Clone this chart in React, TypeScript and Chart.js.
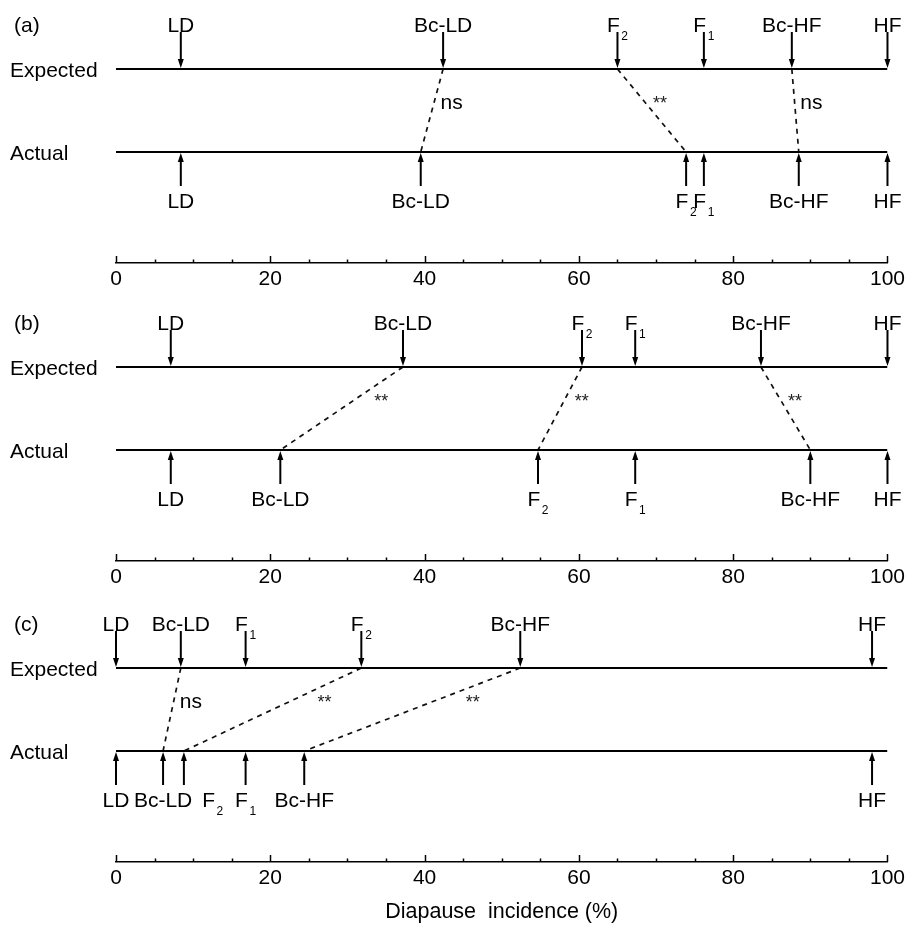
import React, { useEffect, useRef } from 'react';
import { Chart, registerables } from 'chart.js';

Chart.register(...registerables);

// ---------------- data ----------------
const STAGES = ['LD', 'Bc-LD', 'F2', 'F1', 'Bc-HF', 'HF'];
const PANEL_TAGS = ['(a)', '(b)', '(c)'];
const ROW_NAMES = ['Expected', 'Actual'];

const A_EXPECTED = [8.4, 42.4, 65.0, 76.2, 87.6, 100];
const A_ACTUAL = [8.4, 39.5, 73.9, 76.2, 88.5, 100];
const A_SIG = [null, 'ns', '**', null, 'ns', null];

const B_EXPECTED = [7.1, 37.2, 60.4, 67.3, 83.6, 100];
const B_ACTUAL = [7.1, 21.3, 54.7, 67.3, 90.0, 100];
const B_SIG = [null, '**', '**', null, '**', null];

const C_EXPECTED = [0, 8.4, 31.8, 16.8, 52.4, 98.0];
const C_ACTUAL = [0, 6.1, 8.8, 16.8, 24.4, 98.0];
const C_SIG = [null, 'ns', '**', null, '**', null];

const X_MIN = 0;
const X_MAX = 100;
const X_STEP = 5;
const X_TICK_LABELS = [0, 20, 40, 60, 80, 100];
const X_TITLE = 'Diapause  incidence (%)';

// ---------------- layout / style ----------------
const W = 909;
const FONT = '"Liberation Sans", Arial, Helvetica, sans-serif';
const MAIN_SIZE = 21;
const SUB_SIZE = 12;
const EXPECTED_ROW = 1;
const ACTUAL_ROW = 0;
const ROW_PX = 83; // distance between the two rows
const TOP_TO_EXPECTED = 69;
const PLOT_H = 263; // canvas top to axis line
const Y_MAX = EXPECTED_ROW + TOP_TO_EXPECTED / ROW_PX;
const Y_MIN = Y_MAX - PLOT_H / ROW_PX;

type Label = { main: string; sub: string };
function parseLabel(s: string): Label {
  const m = /^F(\d)$/.exec(s);
  return m ? { main: 'F', sub: m[1] } : { main: s, sub: '' };
}
function labelWidth(ctx: CanvasRenderingContext2D, l: Label) {
  ctx.font = `${MAIN_SIZE}px ${FONT}`;
  let w = ctx.measureText(l.main).width;
  if (l.sub) {
    ctx.font = `${SUB_SIZE}px ${FONT}`;
    w += 1.5 + ctx.measureText(l.sub).width;
  }
  return w;
}
function drawLabel(ctx: CanvasRenderingContext2D, l: Label, left: number, baseline: number) {
  ctx.textAlign = 'left';
  ctx.textBaseline = 'alphabetic';
  ctx.font = `${MAIN_SIZE}px ${FONT}`;
  ctx.fillText(l.main, left, baseline);
  if (l.sub) {
    const mw = ctx.measureText(l.main).width;
    ctx.font = `${SUB_SIZE}px ${FONT}`;
    ctx.fillText(l.sub, left + mw + 1.5, baseline + 7.5);
  }
}
function drawArrow(ctx: CanvasRenderingContext2D, x: number, tipY: number, dir: number, len: number) {
  const head = 9;
  const half = 3;
  ctx.lineWidth = 2;
  ctx.beginPath();
  ctx.moveTo(x, tipY - dir * len);
  ctx.lineTo(x, tipY - dir * (head - 1));
  ctx.stroke();
  ctx.beginPath();
  ctx.moveTo(x, tipY);
  ctx.lineTo(x - half, tipY - dir * head);
  ctx.lineTo(x + half, tipY - dir * head);
  ctx.closePath();
  ctx.fill();
}

type PanelProps = {
  tag: string;
  expected: number[];
  actual: number[];
  sig: (string | null)[];
  top: number;
  height: number;
  showTitle: boolean;
};

function Panel({ tag, expected, actual, sig, top, height, showTitle }: PanelProps) {
  const ref = useRef<HTMLCanvasElement>(null);

  useEffect(() => {
    const canvas = ref.current;
    if (!canvas) return;
    const axisH = height - PLOT_H;

    const decor = {
      id: 'decor',
      afterDraw(chart: any) {
        const ctx: CanvasRenderingContext2D = chart.ctx;
        const xs = chart.scales.x;
        const ys = chart.scales.y;
        const expY = ys.getPixelForValue(EXPECTED_ROW);
        const actY = ys.getPixelForValue(ACTUAL_ROW);
        const axisY = chart.chartArea.bottom;
        ctx.save();
        ctx.fillStyle = '#000';
        ctx.strokeStyle = '#000';

        // axis tick marks (pointing up)
        ctx.lineWidth = 1.5;
        xs.ticks.forEach((t: any) => {
          const px = Math.round(xs.getPixelForValue(t.value)) + 0.5;
          const major = X_TICK_LABELS.includes(t.value);
          ctx.beginPath();
          ctx.moveTo(px, axisY);
          ctx.lineTo(px, axisY - (major ? 7 : 3.5));
          ctx.stroke();
        });

        // row names and tag
        ctx.font = `${MAIN_SIZE}px ${FONT}`;
        ctx.textAlign = 'left';
        ctx.textBaseline = 'alphabetic';
        ctx.fillText(ROW_NAMES[0], 10, expY + 7.5);
        ctx.fillText(ROW_NAMES[1], 10, actY + 7.5);
        ctx.fillText(tag, 14, expY - 37);

        // arrows
        STAGES.forEach((_, i) => {
          drawArrow(ctx, xs.getPixelForValue(expected[i]), expY - 1, 1, 36);
          drawArrow(ctx, xs.getPixelForValue(actual[i]), actY + 1, -1, 33);
        });

        // expected labels
        STAGES.forEach((s, i) => {
          const l = parseLabel(s);
          const w = labelWidth(ctx, l);
          drawLabel(ctx, l, xs.getPixelForValue(expected[i]) - w / 2, expY - 37);
        });

        // actual labels with simple overlap avoidance
        const items = STAGES.map((s, i) => {
          const l = parseLabel(s);
          const w = labelWidth(ctx, l);
          const cx = xs.getPixelForValue(actual[i]);
          return { l, w, left: cx - w / 2, cx };
        }).sort((a, b) => a.cx - b.cx);
        let prevRight = -Infinity;
        items.forEach((it) => {
          if (prevRight - it.left > 5) it.left = prevRight + 10;
          prevRight = it.left + it.w;
          drawLabel(ctx, it.l, it.left, actY + 56);
        });

        // significance labels
        sig.forEach((s, i) => {
          if (!s) return;
          const x1 = xs.getPixelForValue(expected[i]);
          const x2 = xs.getPixelForValue(actual[i]);
          const t = s === '**' ? 0.36 : 0.42;
          const px = x1 + (x2 - x1) * t;
          const py = expY + (actY - expY) * t;
          const slope = Math.abs(x2 - x1) / Math.abs(actY - expY);
          const left = px + 5 + 7 * slope;
          ctx.textAlign = 'left';
          ctx.textBaseline = 'alphabetic';
          if (s === '**') {
            ctx.fillStyle = '#222';
            ctx.font = `18px ${FONT}`;
            ctx.fillText(s, left, py + 10);
            ctx.fillStyle = '#000';
          } else {
            ctx.font = `${MAIN_SIZE}px ${FONT}`;
            ctx.fillText(s, left, py + 5.5);
          }
        });
        ctx.restore();
      },
    };

    const datasets: any[] = [
      {
        data: [
          { x: X_MIN, y: EXPECTED_ROW },
          { x: X_MAX, y: EXPECTED_ROW },
        ],
        showLine: true,
        borderColor: '#000',
        borderWidth: 2,
        pointRadius: 0,
      },
      {
        data: [
          { x: X_MIN, y: ACTUAL_ROW },
          { x: X_MAX, y: ACTUAL_ROW },
        ],
        showLine: true,
        borderColor: '#000',
        borderWidth: 2,
        pointRadius: 0,
      },
    ];
    sig.forEach((s, i) => {
      if (!s) return;
      datasets.push({
        data: [
          { x: expected[i], y: EXPECTED_ROW },
          { x: actual[i], y: ACTUAL_ROW },
        ],
        showLine: true,
        borderColor: '#111',
        borderWidth: 1.7,
        borderDash: [5, 5],
        pointRadius: 0,
      });
    });

    const chart = new Chart(canvas, {
      type: 'scatter',
      data: { datasets },
      options: {
        animation: false,
        responsive: false,
        devicePixelRatio: 1,
        events: [],
        layout: { padding: { left: 116, right: 21, top: 0, bottom: 0 } },
        plugins: {
          legend: { display: false },
          tooltip: { enabled: false },
        },
        scales: {
          x: {
            type: 'linear',
            position: 'bottom',
            min: X_MIN,
            max: X_MAX,
            ticks: {
              stepSize: X_STEP,
              autoSkip: false,
              maxRotation: 0,
              padding: 4,
              color: '#000',
              font: { family: FONT, size: MAIN_SIZE },
              callback: (v: any) => (X_TICK_LABELS.includes(Number(v)) ? String(v) : ''),
            },
            grid: { display: true, drawOnChartArea: false, drawTicks: false },
            border: { display: true, color: '#000', width: 1.5 },
            title: showTitle
              ? {
                  display: true,
                  text: X_TITLE,
                  color: '#000',
                  font: { family: FONT, size: 21.5 },
                  padding: { top: 0, bottom: 0 },
                }
              : { display: false },
            afterFit: (scale: any) => {
              scale.height = axisH;
            },
          },
          y: { display: false, min: Y_MIN, max: Y_MAX },
        },
      },
      plugins: [decor],
    } as any);

    return () => chart.destroy();
  }, [tag, expected, actual, sig, height, showTitle]);

  return (
    <canvas
      ref={ref}
      width={W}
      height={height}
      style={{ position: 'absolute', left: 0, top, width: W, height, display: 'block' }}
    />
  );
}

export default function App() {
  return (
    <div
      style={{
        position: 'absolute',
        left: 0,
        top: 0,
        width: W,
        height: 925,
        overflow: 'hidden',
        background: '#fff',
      }}
    >
      <Panel tag={PANEL_TAGS[0]} expected={A_EXPECTED} actual={A_ACTUAL} sig={A_SIG} top={0} height={298} showTitle={false} />
      <Panel tag={PANEL_TAGS[1]} expected={B_EXPECTED} actual={B_ACTUAL} sig={B_SIG} top={298} height={301} showTitle={false} />
      <Panel tag={PANEL_TAGS[2]} expected={C_EXPECTED} actual={C_ACTUAL} sig={C_SIG} top={599} height={326} showTitle={true} />
    </div>
  );
}
